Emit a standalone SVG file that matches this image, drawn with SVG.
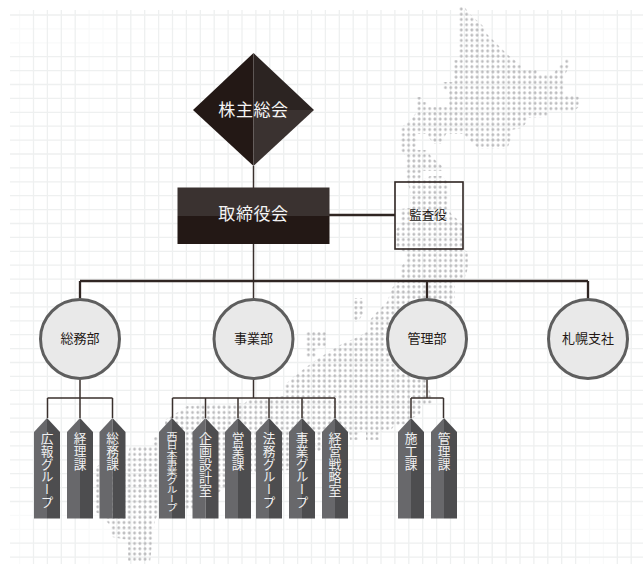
<svg xmlns="http://www.w3.org/2000/svg" width="643" height="564" viewBox="0 0 643 564">
<style>
.gs{fill:none;stroke:#eef0f0;stroke-width:1.3}
.gf{fill:none;stroke:#f9fafa;stroke-width:1.3}
.c1{fill:none;stroke:#302623;stroke-width:2.3}
.c2{fill:none;stroke:#3a302d;stroke-width:1.5}
.box{fill:none;stroke:#302623;stroke-width:1.6}
.circ{fill:#e9e9e9;stroke:#5e5e5e;stroke-width:3}
text{font-family:"Noto Sans CJK JP","Noto Sans",sans-serif}
.w{fill:#f4f4f4;font-size:17px;text-anchor:middle;letter-spacing:.6px}
.k{fill:#231815;font-size:13px;text-anchor:middle}
.v{fill:#f0f0f0;font-size:12.7px;writing-mode:vertical-rl}
</style>
<defs>
<pattern id="dots" patternUnits="userSpaceOnUse" x="458.665" y="6.38" width="5.27" height="5.24"><circle cx="2.635" cy="2.62" r="1.45" fill="#bcbcbe"/></pattern>
<g id="tag"><polygon points="0,14 13,0 13,100.5 0,100.5" fill="#68686b"/><polygon points="13,0 26,14 26,100.5 13,100.5" fill="#4d4d4f"/></g>
</defs>
<g id="grid">
<path class="gf" d="M19.6 10V564M89.1 10V564M103 10V564M589.5 10V564M603.4 10V564M10 28.9H643M10 42.8H643M10 515.4H643M10 529.3H643"/>
<path class="gs" d="M33.5 10V564M47.4 10V564M61.3 10V564M75.2 10V564M116.9 10V564M130.8 10V564M144.7 10V564M158.6 10V564M172.5 10V564M186.4 10V564M200.3 10V564M214.2 10V564M228.1 10V564M242 10V564M255.9 10V564M269.8 10V564M283.7 10V564M297.6 10V564M311.5 10V564M325.4 10V564M339.3 10V564M353.2 10V564M367.1 10V564M381 10V564M394.9 10V564M408.8 10V564M422.7 10V564M436.6 10V564M450.5 10V564M464.4 10V564M478.3 10V564M492.2 10V564M506.1 10V564M520 10V564M533.9 10V564M547.8 10V564M561.7 10V564M575.6 10V564M617.3 10V564M631.2 10V564"/>
<path class="gs" d="M10 15H643M10 56.7H643M10 70.6H643M10 84.5H643M10 98.4H643M10 112.3H643M10 126.2H643M10 140.1H643M10 154H643M10 167.9H643M10 181.8H643M10 195.7H643M10 209.6H643M10 223.5H643M10 237.4H643M10 251.3H643M10 265.2H643M10 279.1H643M10 293H643M10 306.9H643M10 320.8H643M10 334.7H643M10 348.6H643M10 362.5H643M10 376.4H643M10 390.3H643M10 404.2H643M10 418.1H643M10 432H643M10 445.9H643M10 459.8H643M10 473.7H643M10 487.6H643M10 501.5H643M10 543.2H643M10 557.1H643"/>
</g>
<g id="map" fill="url(#dots)">
<path d="M459,6H464L468,12L474,18L480,23L485,28L487,34L492,39L497,44L502,49L508,55L521,65L521,70L538,70L538,75L553,75L556,70L559,70L559,65L564,65L564,59L569,59L569,66L565,75L565,95L580,97L580,106L574,111L548,112L548,117L527,118L526,123L522,128L511,130L511,139L507,149L479,149L463,134L446,134L441,144L434,144L426,134L416,134L416,150L427,150L430,155L435,160L442,166L442,171L422,171L420,181L430,176L442,176L449,183L449,197L447,207L452,215L457,219L464,226L464,250L468,252L468,268L464,280L455,282L455,300L445,320L420,360L432,398L432,403L422,405L420,415L412,418L408,424L395,425L391,430L380,432L379,440L366,440L366,432L358,432L358,440L350,440L349,433L340,433L336,440L290,470L255,472L225,488L193,510L185,510L165,470L165,420L178,412L187,406L245,403L250,398L264,398L285,396L285,385L292,378L305,368L316,360L327,353L340,345L360,336L369,330L370,320L377,312L387,302L392,288L400,280L400,268L405,262L405,252L395,248L395,230L400,226L400,209L410,208L410,190L405,175L405,155L400,150L400,128L406,124L411,119L416,113L416,97L421,97L421,102L428,102L428,107L448,107L448,90L443,89L443,82L453,82L453,60L459,60Z"/>
<path d="M353,298H364V312L358,322H353Z"/>
<path d="M305,331H327V348H317V358H305Z"/>
<path d="M153,436H158V515L155,520L152,545L150,562H128V540L112,537L110,525L105,520V516L95,512V468L99,465L127,460L130,446H152Z"/>
</g>
<g id="connectors">
<path class="c2" d="M253.5 166V298"/>
<path class="c1" d="M329 215H395M80 281H588M80 281V298M427 281V298M588 281V298"/>
<path class="c2" d="M80 380V418M47.5 398H112.5M47.5 398V418M112.5 398V418M253.5 380V398M172.5 398H335M172.5 398V418M205.5 398V418M238 398V418M269 398V418M302 398V418M335 398V418M427 380V398M411 398H443.5M411 398V418M443.5 398V418"/>
</g>
<g id="n-shareholders">
<polygon points="253.5,53 193,110 253.5,166" fill="#231815"/>
<polygon points="253.5,53 314,110 253.5,110" fill="#2c2422"/>
<polygon points="253.5,110 314,110 253.5,166" fill="#3a3230"/>
<text class="w" x="253.5" y="116">株主総会</text>
</g>
<g id="n-board">
<rect x="177.5" y="187.5" width="152" height="28.5" fill="#3a3230"/>
<rect x="177.5" y="216" width="152" height="28" fill="#231815"/>
<text class="w" x="253.5" y="220">取締役会</text>
</g>
<g id="n-auditor">
<rect class="box" x="395" y="182" width="68" height="67"/>
<text class="k" x="428" y="220" style="font-size:12.5px">監査役</text>
</g>
<g id="n-soumubu"><circle class="circ" cx="80" cy="339" r="39.5"/><text class="k" x="80" y="343">総務部</text></g>
<g id="n-jigyobu"><circle class="circ" cx="253.5" cy="339" r="39.5"/><text class="k" x="253.5" y="343">事業部</text></g>
<g id="n-kanribu"><circle class="circ" cx="427" cy="339" r="39.5"/><text class="k" x="427" y="343">管理部</text></g>
<g id="n-sapporo"><circle class="circ" cx="588" cy="339" r="39.5"/><text class="k" x="588" y="343">札幌支社</text></g>
<g id="t1"><use href="#tag" x="34" y="418"/><text class="v" x="47" y="432">広報グループ</text></g>
<g id="t2"><use href="#tag" x="67" y="418"/><text class="v" x="80" y="432">経理課</text></g>
<g id="t3"><use href="#tag" x="99.5" y="418"/><text class="v" x="112.5" y="432">総務課</text></g>
<g id="t4"><use href="#tag" x="159" y="418"/><text class="v" x="172" y="432" style="font-size:11px" textLength="80" lengthAdjust="spacingAndGlyphs">西日本事業グループ</text></g>
<g id="t5"><use href="#tag" x="192.5" y="418"/><text class="v" x="205.5" y="432" style="font-size:13px">企画設計室</text></g>
<g id="t6"><use href="#tag" x="225" y="418"/><text class="v" x="238" y="432">営業課</text></g>
<g id="t7"><use href="#tag" x="256" y="418"/><text class="v" x="269" y="432">法務グループ</text></g>
<g id="t8"><use href="#tag" x="289" y="418"/><text class="v" x="302" y="432">事業グループ</text></g>
<g id="t9"><use href="#tag" x="322" y="418"/><text class="v" x="335" y="432" style="font-size:13px">経営戦略室</text></g>
<g id="t10"><use href="#tag" x="398" y="418"/><text class="v" x="411" y="432">施工課</text></g>
<g id="t11"><use href="#tag" x="431" y="418"/><text class="v" x="444" y="432">管理課</text></g>
</svg>
